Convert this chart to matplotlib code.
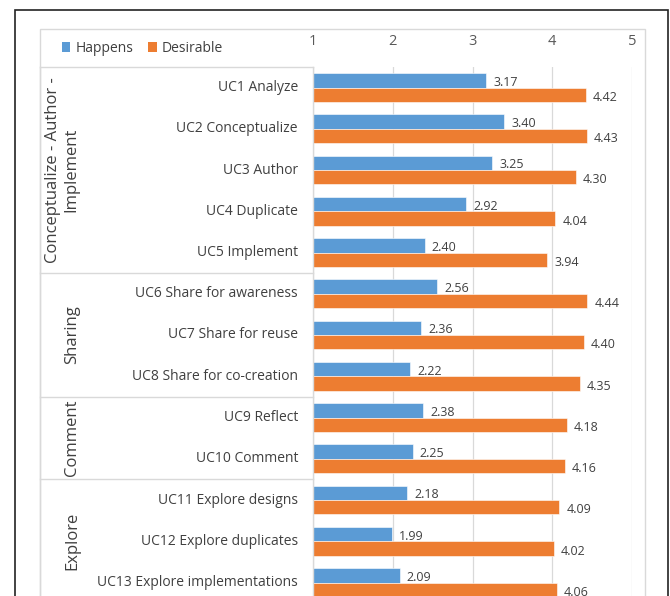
import matplotlib
matplotlib.use("Agg")
import matplotlib.pyplot as plt
from matplotlib.patches import Rectangle, Patch
from matplotlib.lines import Line2D
import matplotlib.transforms as mtransforms

plt.rcParams['font.family'] = ['Open Sans', 'DejaVu Sans']

categories = ["UC1 Analyze", "UC2 Conceptualize", "UC3 Author", "UC4 Duplicate",
              "UC5 Implement", "UC6 Share for awareness", "UC7 Share for reuse",
              "UC8 Share for co-creation", "UC9 Reflect", "UC10 Comment",
              "UC11 Explore designs", "UC12 Explore duplicates",
              "UC13 Explore implementations"]
happens = [3.17, 3.40, 3.25, 2.92, 2.40, 2.56, 2.36, 2.22, 2.38, 2.25, 2.18, 1.99, 2.09]
desirable = [4.42, 4.43, 4.30, 4.04, 3.94, 4.44, 4.40, 4.35, 4.18, 4.16, 4.09, 4.02, 4.06]
groups = ["Conceptualize - Author -\nImplement", "Sharing", "Comment", "Explore"]
group_sizes = [5, 3, 2, 3]
xticks = [1, 2, 3, 4, 5]

BLUE = "#5B9BD5"
ORANGE = "#ED7D31"
GRID = "#D9D9D9"
TXT = "#404040"

W, H = 670, 596
fig = plt.figure(figsize=(W / 100, H / 100), dpi=100)
fig.patch.set_facecolor("white")


def fx(px):
    return px / W


def fy(py):
    return 1 - py / H


# outer black frame and inner chart-area border
fig.add_artist(Rectangle((fx(15), fy(800)), fx(668) - fx(15), (800 - 10) / H,
                         transform=fig.transFigure, fill=False, ec="#222222", lw=1.2))
fig.add_artist(Rectangle((fx(40), fy(800)), fx(645) - fx(40), (800 - 29) / H,
                         transform=fig.transFigure, fill=False, ec=GRID, lw=1.0))

left_px, right_px, top_px = 313, 632, 67
row0, step = 87.5, 41.25
ax = fig.add_axes([fx(left_px), 0, fx(right_px) - fx(left_px), (H - top_px) / H])
ax.set_xlim(1, 5)
ytop = (top_px - row0) / step
ybot = (H - row0) / step
ax.set_ylim(ybot, ytop)

n = len(categories)
ys = list(range(n))
bh = 0.35
ax.barh([y - bh / 2 for y in ys], [v - 1 for v in happens], left=1, height=bh,
        color=BLUE, edgecolor="white", linewidth=0.4, zorder=3)
ax.barh([y + bh / 2 for y in ys], [v - 1 for v in desirable], left=1, height=bh,
        color=ORANGE, edgecolor="white", linewidth=0.4, zorder=3)

for y, v in zip(ys, happens):
    ax.annotate(f"{v:.2f}", (v, y - bh / 2), xytext=(5, -1.5), textcoords="offset points",
                ha="left", va="center", fontsize=9, color=TXT)
for y, v in zip(ys, desirable):
    ax.annotate(f"{v:.2f}", (v, y + bh / 2), xytext=(5, -2), textcoords="offset points",
                ha="left", va="center", fontsize=9, color=TXT)

ax.set_xticks(xticks)
ax.set_xticklabels([str(t) for t in xticks])
ax.xaxis.tick_top()
ax.tick_params(axis="x", length=0, pad=13, labelsize=10.5, labelcolor="#595959")
ax.set_yticks([])
for s in ax.spines.values():
    s.set_visible(False)
ax.grid(axis="x", color=GRID, lw=0.9, zorder=0)
ax.set_axisbelow(True)

# category labels and group structure
blend = mtransforms.blended_transform_factory(fig.transFigure, ax.transData)
for y, c in zip(ys, categories):
    fig.text(fx(298), y, c, transform=blend, ha="right", va="center",
             fontsize=10, color=TXT)

bounds = [ytop]
acc = 0
for g in group_sizes:
    acc += g
    bounds.append(acc - 0.5)
for b in bounds[:-1]:
    fig.add_artist(Line2D([fx(40), fx(313)], [b, b], transform=blend, color=GRID, lw=1.0))
fig.add_artist(Line2D([fx(40), fx(40)], [ytop, ybot + 2], transform=blend, color=GRID, lw=1.0))
fig.add_artist(Line2D([fx(313), fx(313)], [ytop, ybot + 2], transform=blend, color=GRID, lw=1.0))

start = -0.5
for g, sz in zip(groups, group_sizes):
    end = start + sz
    mid = (start + end) / 2
    xg = 62.5 if "\n" in g else 72
    fig.text(fx(xg), mid, g, transform=blend, rotation=90, ha="center", va="center",
             multialignment="center", fontsize=12, color=TXT, linespacing=1.2)
    start = end

# legend
handles = [Patch(facecolor=BLUE, label="Happens"), Patch(facecolor=ORANGE, label="Desirable")]
fig.legend(handles=handles, loc="center left", bbox_to_anchor=(fx(62), fy(48)), ncol=2,
           frameon=False, fontsize=10, handlelength=0.6, handleheight=0.75,
           handletextpad=0.35, columnspacing=1.1, borderpad=0, borderaxespad=0,
           labelcolor=TXT)

fig.savefig("out.png", dpi=100)
